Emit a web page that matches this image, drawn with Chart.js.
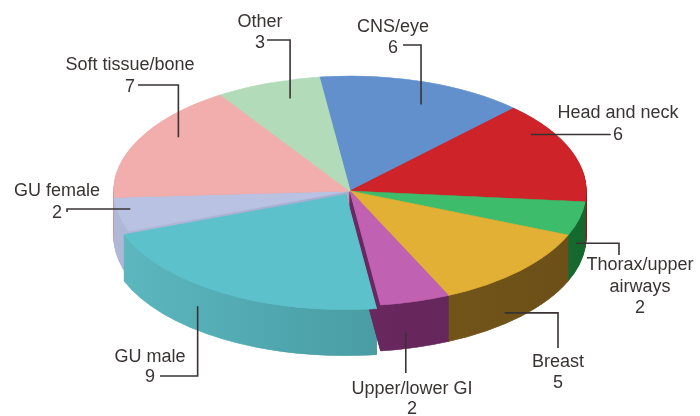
<!DOCTYPE html>
<html>
<head>
<meta charset="utf-8">
<script src="https://cdn.jsdelivr.net/npm/chart.js@4.4.1/dist/chart.umd.min.js"></script>
<style>
  html, body { margin: 0; background: #fff; }
  #wrap { width: 700px; height: 416px; position: relative; }
</style>
</head>
<body>
<div id="wrap"><canvas id="chart-pie" width="700" height="416"></canvas></div>
<script>
// ----- data -----
const categories = ['CNS/eye', 'Head and neck', 'Thorax/upper airways', 'Breast', 'Upper/lower GI',
                    'GU male', 'GU female', 'Soft tissue/bone', 'Other'];
const counts = [6, 6, 2, 5, 2, 9, 2, 7, 3];
// label text as it is wrapped on the picture
const labelRows = [['CNS/eye'], ['Head and neck'], ['Thorax/upper', 'airways'], ['Breast'],
                   ['Upper/lower GI'], ['GU male'], ['GU female'], ['Soft tissue/bone'], ['Other']];

// ----- style -----
const topColors  = ['#6190cc', '#cd2329', '#3dbd6b', '#e1b034', '#c062b1',
                    '#5dc1cc', '#b9c2e3', '#f2adad', '#b2dcb9'];
const wallColors = [['#4a74ab', '#3d6394'], ['#a91f24', '#8e181c'], ['#238a42', '#15692f'],
                    ['#84621f', '#6b4f17'], ['#742e69', '#5f2356'], ['#5db8c0', '#3a878e'],
                    ['#b0b8d8', '#9aa3c6'], ['#d99393', '#c27e7e'], ['#96c29d', '#82ad89']];
const explode = [0, 0, 0, 0, 0, 28, 0, 0, 0];

// projection of the flat pie onto a tilted disc
const VIEW = { cx: 350, cy: 191, rx: 236, ry: 115, depth: 46 };

// callout layout: text centre x, row centre ys, leader type, leader start, anchor on slice
// type 'hv' = horizontal from label then vertical to slice, 'vh' = vertical then horizontal
const callouts = [
  { x: 393, ys: [27, 48],        type: 'hv', lx: 403, ly: 45,  f: 0.57, r: 0.81,  drop: 0 },
  { x: 618, ys: [113, 135],      type: 'vh', lx: 610, ly: 134, f: 0.26, r: 0.91,  drop: 0 },
  { x: 640, ys: [265, 287, 308], type: 'vh', lx: 619, ly: 255, f: 0.67, r: 1.0,   drop: 19 },
  { x: 558, ys: [362, 383],      type: 'vh', lx: 558, ly: 348, f: 0.62, r: 1.0,   drop: 35 },
  { x: 412, ys: [389, 409],      type: 'vh', lx: null, ly: 373, f: 0.64, r: 1.0,  drop: 30 },
  { x: 150, ys: [357, 377],      type: 'hv', lx: 160, ly: 376, f: 0.60, r: 1.0,   drop: 22 },
  { x: 57,  ys: [191, 213],      type: 'vh', lx: 67,  ly: 212, f: 0.63, r: 0.944, drop: 0 },
  { x: 130, ys: [65, 87],        type: 'hv', lx: 138, ly: 85,  f: 0.60, r: 0.865, drop: 0 },
  { x: 260, ys: [22, 43],        type: 'hv', lx: 267, ly: 40,  f: 0.61, r: 0.843, drop: 0 },
];

const TEXT = '#3a3333';

function project(ctx, arc, dy) {
  const R = arc.outerRadius;
  ctx.translate(VIEW.cx, VIEW.cy + dy);
  ctx.scale(VIEW.rx / R, VIEW.ry / R);
  ctx.translate(-arc.x, -arc.y);
}

function frontDistance(arc) {
  const m = (arc.startAngle + arc.endAngle) / 2 - Math.PI / 2;
  return Math.abs(Math.atan2(Math.sin(m), Math.cos(m)));
}

// draws the side walls, then tilts the regular pie drawing
const pie3d = {
  id: 'pie3d',
  beforeDatasetsDraw(chart) {
    const ctx = chart.ctx;
    const arcs = chart.getDatasetMeta(0).data;
    const order = arcs.map((a, i) => i).sort((a, b) => frontDistance(arcs[b]) - frontDistance(arcs[a]));
    order.forEach((i) => {
      const arc = arcs[i];
      const saved = arc.options;
      for (let d = VIEW.depth; d >= 1; d--) {
        ctx.save();
        project(ctx, arc, d);
        const g = ctx.createLinearGradient(arc.x - arc.outerRadius, 0, arc.x + arc.outerRadius, 0);
        g.addColorStop(0, wallColors[i][0]);
        g.addColorStop(1, wallColors[i][1]);
        arc.options = Object.assign({}, saved, { backgroundColor: g, borderColor: g });
        arc.draw(ctx);
        ctx.restore();
      }
      arc.options = saved;
    });
    ctx.save();
    project(ctx, arcs[0], 0);
  },
  afterDatasetsDraw(chart) {
    chart.ctx.restore();
  },
  afterDraw(chart) {
    const ctx = chart.ctx;
    const arcs = chart.getDatasetMeta(0).data;
    ctx.save();
    ctx.font = '18px "Liberation Sans", Arial, sans-serif';
    ctx.fillStyle = TEXT;
    ctx.strokeStyle = TEXT;
    ctx.lineWidth = 1.6;
    ctx.textAlign = 'center';
    ctx.textBaseline = 'middle';
    callouts.forEach((c, i) => {
      const arc = arcs[i];
      const R = arc.outerRadius;
      const a = arc.startAngle + c.f * (arc.endAngle - arc.startAngle);
      const mid = (arc.startAngle + arc.endAngle) / 2;
      const off = (arc.options.offset || 0) / 4 * (2 - Math.sin(Math.min(Math.PI, arc.circumference)));
      const ux = Math.cos(a) * c.r * R + Math.cos(mid) * off;
      const uy = Math.sin(a) * c.r * R + Math.sin(mid) * off;
      const ax = VIEW.cx + ux * VIEW.rx / R;
      const ay = VIEW.cy + uy * VIEW.ry / R + c.drop;
      const lx = c.lx === null ? ax : c.lx;

      ctx.beginPath();
      ctx.moveTo(lx, c.ly);
      if (c.type === 'hv') ctx.lineTo(ax, c.ly);
      else ctx.lineTo(lx, ay);
      ctx.lineTo(ax, ay);
      ctx.stroke();

      const rows = labelRows[i].concat(String(counts[i]));
      rows.forEach((t, k) => ctx.fillText(t, c.x, c.ys[k]));
    });
    ctx.restore();
  },
};

new Chart(document.getElementById('chart-pie'), {
  type: 'pie',
  data: {
    labels: categories,
    datasets: [{
      data: counts,
      backgroundColor: topColors,
      borderColor: topColors,
      borderWidth: 1,
      offset: explode,
      clip: false,
    }],
  },
  options: {
    responsive: false,
    animation: false,
    events: [],
    rotation: -7.5,
    layout: { padding: 0 },
    plugins: {
      legend: { display: false },
      tooltip: { enabled: false },
    },
  },
  plugins: [pie3d],
});
</script>
</body>
</html>
